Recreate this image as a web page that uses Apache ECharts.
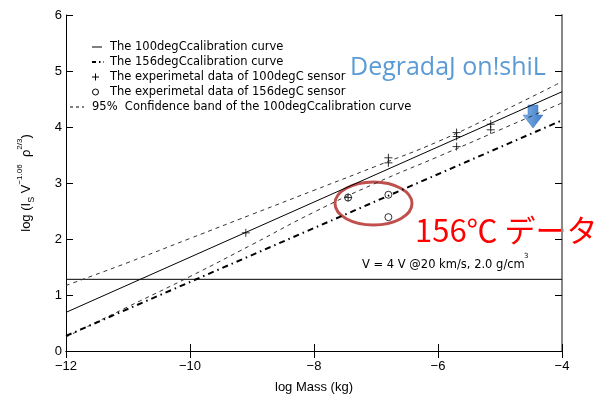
<!DOCTYPE html>
<html lang="en" style="height: 100%">
<head>
  <meta charset="utf-8">
</head>
<body style="height: 100%; margin: 0; background: #fff">
  <div id="container" style="width: 604px; height: 401px"></div>

  <script type="text/javascript" src="https://fastly.jsdelivr.net/npm/echarts@6/dist/echarts.min.js"></script>

  <script type="text/javascript">
    // calibration lines (log Mass -> log(Is V^-1.06 rho^2/3))
    var calibX = [-12, -4];
    var calib100 = [0.69, 4.63];
    var calib156 = [0.27, 4.12];
    // 95% confidence band of the 100degC curve
    var bandX = [-12, -11, -10, -9, -8, -7, -6, -5, -4];
    var bandUpper = [1.17, 1.58, 2.01, 2.44, 2.87, 3.30, 3.74, 4.26, 4.81];
    var bandLower = [0.25, 0.79, 1.33, 1.90, 2.48, 3.00, 3.47, 3.95, 4.43];
    // detection level line
    var refLevel = 1.28;
    // measured points
    var data100X = [-9.1, -7.45, -6.8, -6.8, -5.7, -5.7, -5.7, -5.15, -5.15];
    var data100Y = [2.11, 2.74, 3.45, 3.36, 3.90, 3.83, 3.65, 4.05, 3.95];
    var data156X = [-7.45, -6.8, -6.8];
    var data156Y = [2.74, 2.79, 2.39];
    var xTicks = ['-12', '-10', '-8', '-6', '-4'];

    var legendItems = [
      'The 100degCcalibration curve',
      'The 156degCcalibration curve',
      'The experimetal data of 100degC sensor',
      'The experimetal data of 156degC sensor',
      '95%  Confidence band of the 100degCcalibration curve'
    ];

    function pairs(xs, ys) {
      return xs.map(function (x, i) { return [x, ys[i]]; });
    }

    var dom = document.getElementById('container');
    var myChart = echarts.init(dom, null, { renderer: 'canvas' });

    var axisFont = { fontFamily: 'Liberation Sans', fontSize: 13, color: '#000' };
    var legFont = { fontFamily: 'DejaVu Sans', fontSize: 11.5, fill: '#000' };
    var legY = [47, 62, 77, 92, 107];

    var graphics = [
      { type: 'line', shape: { x1: 92, y1: legY[0], x2: 102, y2: legY[0] }, style: { stroke: '#000', lineWidth: 1 } },
      { type: 'line', shape: { x1: 92, y1: legY[1], x2: 104, y2: legY[1] }, style: { stroke: '#000', lineWidth: 2, lineDash: [4, 3, 1.5, 3] } },
      { type: 'line', shape: { x1: 92, y1: legY[2], x2: 99, y2: legY[2] }, style: { stroke: '#000', lineWidth: 1 } },
      { type: 'line', shape: { x1: 95.5, y1: legY[2] - 3.5, x2: 95.5, y2: legY[2] + 3.5 }, style: { stroke: '#000', lineWidth: 1 } },
      { type: 'circle', shape: { cx: 95.5, cy: legY[3], r: 3 }, style: { fill: 'none', stroke: '#000', lineWidth: 1 } },
      { type: 'line', shape: { x1: 70, y1: legY[4], x2: 84, y2: legY[4] }, style: { stroke: '#000', lineWidth: 1, lineDash: [3, 3] } }
    ];
    legendItems.forEach(function (t, i) {
      graphics.push({
        type: 'text', x: i === 4 ? 92 : 110, y: legY[i],
        style: Object.assign({ text: t, verticalAlign: 'middle' }, legFont)
      });
    });
    graphics.push(
      { type: 'text', x: 350, y: 68, style: { text: 'DegradaJ on!shiL', fontFamily: 'Open Sans', fontSize: 25, fill: '#5b9bd5', verticalAlign: 'middle' } },
      { type: 'polygon', shape: { points: [[528, 105], [538, 105], [538, 115], [543, 115], [533, 128], [523, 115], [528, 115]] },
        style: { fill: new echarts.graphic.LinearGradient(0, 0, 1, 0, [{ offset: 0, color: '#7fb0e6' }, { offset: 1, color: '#3d7cc9' }]), stroke: '#3a75c0', lineWidth: 0.5 } },
      { type: 'ellipse', shape: { cx: 373.5, cy: 203.5, rx: 38.5, ry: 21.5 }, style: { fill: 'none', stroke: '#c0504d', lineWidth: 3 } },
      { type: 'text', x: 415, y: 230, style: { text: '156℃ データ', fontFamily: 'Noto Sans CJK JP', fontSize: 31, fill: '#ff0000', verticalAlign: 'middle' } },
      { type: 'text', x: 362, y: 265, style: { text: 'V = 4 V @20 km/s, 2.0 g/cm', fontFamily: 'DejaVu Sans', fontSize: 11.5, fill: '#000', verticalAlign: 'middle' } },
      { type: 'text', x: 524, y: 256, style: { text: '3', fontFamily: 'DejaVu Sans', fontSize: 7, fill: '#000', verticalAlign: 'middle' } }
    );

    var option = {
      animation: false,
      backgroundColor: '#fff',
      grid: { left: 66, right: 42, top: 15, bottom: 50 },
      xAxis: [{
        type: 'value', min: -12, max: -4, interval: 2,
        name: 'log Mass (kg)', nameLocation: 'middle', nameGap: 30,
        nameTextStyle: axisFont,
        axisLine: { lineStyle: { color: '#000', width: 1 } },
        axisTick: { inside: true, length: 7, lineStyle: { color: '#000' } },
        axisLabel: Object.assign({ margin: 9, formatter: function (v) {
          var s = xTicks[(v + 12) / 2];
          return s ? s.replace('-', '−') : '';
        } }, axisFont),
        splitLine: { show: false }
      }, {
        type: 'value', min: -12, max: -4, interval: 2, position: 'top',
        axisLine: { show: true, lineStyle: { color: '#000', width: 1 } },
        axisTick: { inside: true, length: 7, lineStyle: { color: '#000' } },
        axisLabel: { show: false },
        splitLine: { show: false }
      }],
      yAxis: [{
        type: 'value', min: 0, max: 6, interval: 1,
        name: '{n|log (I}{sub|S}{n| V}{sup|−1.06}{n|  ρ}{sup|2/3}{n|)}',
        nameLocation: 'middle', nameRotate: 90, nameGap: 30,
        nameTextStyle: {
          rich: {
            n: { fontFamily: 'Liberation Sans', fontSize: 13, color: '#000', verticalAlign: 'bottom', padding: [0, 0, 3, 0] },
            sub: { fontFamily: 'Liberation Sans', fontSize: 9, color: '#000', verticalAlign: 'bottom' },
            sup: { fontFamily: 'Liberation Sans', fontSize: 8, color: '#000', verticalAlign: 'bottom', padding: [0, 0, 12, 0] }
          }
        },
        axisLine: { show: true, lineStyle: { color: '#000', width: 1 } },
        axisTick: { inside: true, length: 7, lineStyle: { color: '#000' } },
        axisLabel: Object.assign({ margin: 4 }, axisFont),
        splitLine: { show: false }
      }, {
        type: 'value', min: 0, max: 6, interval: 1, position: 'right',
        axisLine: { show: true, lineStyle: { color: '#888', width: 2 } },
        axisTick: { inside: true, length: 7, lineStyle: { color: '#000' } },
        axisLabel: { show: false },
        splitLine: { show: false }
      }],
      series: [
        { type: 'line', name: 'level', data: pairs(calibX, [refLevel, refLevel]), symbol: 'none',
          lineStyle: { color: '#000', width: 1 } },
        { type: 'line', name: 'band upper', data: pairs(bandX, bandUpper), symbol: 'none', smooth: true,
          lineStyle: { color: '#333', width: 1, type: [4, 4] } },
        { type: 'line', name: 'band lower', data: pairs(bandX, bandLower), symbol: 'none', smooth: true,
          lineStyle: { color: '#333', width: 1, type: [4, 4] } },
        { type: 'line', name: '100degC', data: pairs(calibX, calib100), symbol: 'none',
          lineStyle: { color: '#000', width: 1 } },
        { type: 'line', name: '156degC', data: pairs(calibX, calib156), symbol: 'none',
          lineStyle: { color: '#000', width: 2, type: [6, 4, 1.5, 4] } },
        { type: 'scatter', name: '100 data', data: pairs(data100X, data100Y),
          symbol: 'path://M5,0L5,10M0,5L10,5', symbolSize: 8,
          itemStyle: { color: 'none', borderColor: '#000', borderWidth: 1 } },
        { type: 'scatter', name: '156 data', data: pairs(data156X, data156Y),
          symbol: 'circle', symbolSize: 7,
          itemStyle: { color: 'rgba(255,255,255,0)', borderColor: '#000', borderWidth: 1 } }
      ],
      graphic: graphics
    };

    myChart.setOption(option);
    window.addEventListener('resize', myChart.resize);
  </script>
</body>
</html>
